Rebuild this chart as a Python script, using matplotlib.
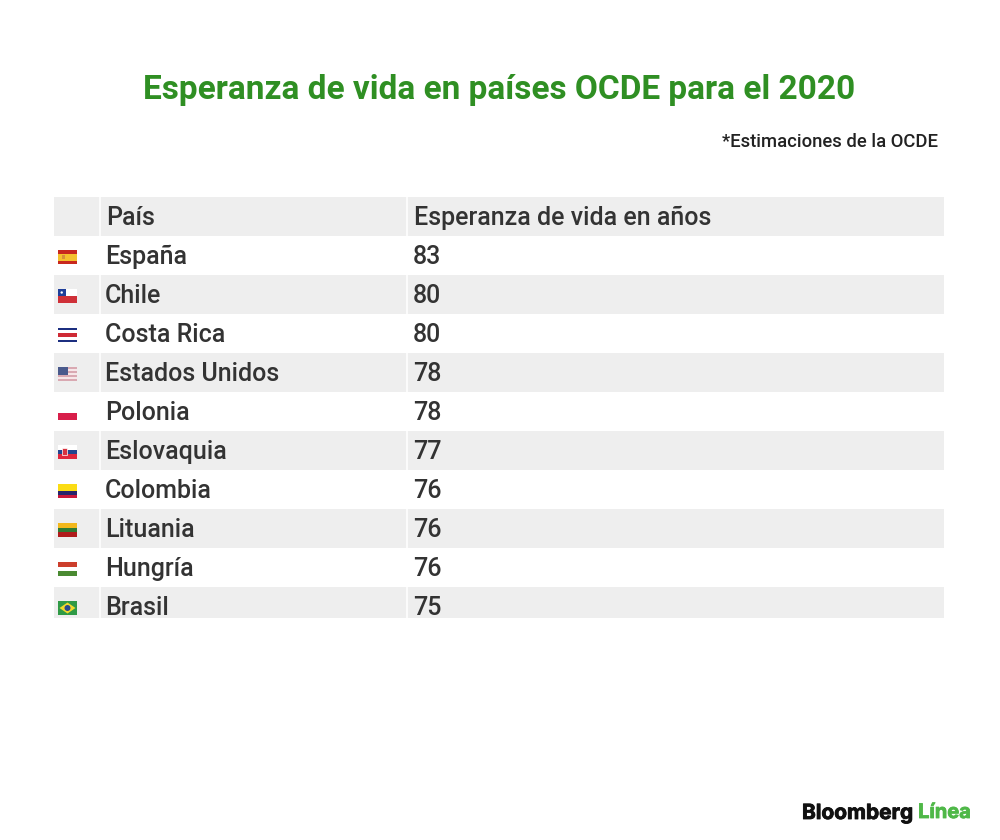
import matplotlib
matplotlib.use('Agg')
import matplotlib.pyplot as plt
import matplotlib.patheffects as pe
from matplotlib.patches import Rectangle, Polygon, Circle

plt.rcParams['font.family'] = ['Roboto', 'DejaVu Sans']

title = 'Esperanza de vida en países OCDE para el 2020'
note = '*Estimaciones de la OCDE'
headers = ['País', 'Esperanza de vida en años']
countries = ['España', 'Chile', 'Costa Rica', 'Estados Unidos', 'Polonia',
             'Eslovaquia', 'Colombia', 'Lituania', 'Hungría', 'Brasil']
years = [83, 80, 80, 78, 78, 77, 76, 76, 76, 75]

# flag bands, top to bottom: (colour, share of the height)
flag_bands = {
    'España': [('#c8281e', 1), ('#f4c12e', 2), ('#c8281e', 1)],
    'Chile': [('#ffffff', 1), ('#cf3038', 1)],
    'Costa Rica': [('#1c2f80', 1), ('#ffffff', 1), ('#cf2a35', 2), ('#ffffff', 1), ('#1c2f80', 1)],
    'Estados Unidos': [('#d9a9b2', 1), ('#f6e6e8', 1)] * 3 + [('#d9a9b2', 1)],
    'Polonia': [('#ffffff', 1), ('#d81e4a', 1)],
    'Eslovaquia': [('#ffffff', 1), ('#24468f', 1), ('#e0263c', 1)],
    'Colombia': [('#fbdc14', 2), ('#27246b', 1), ('#c8183a', 1)],
    'Lituania': [('#f3b81c', 1), ('#2f7a34', 1), ('#b01c1c', 1)],
    'Hungría': [('#cc3e2c', 1), ('#ffffff', 1), ('#4a8a32', 1)],
    'Brasil': [('#2f9a46', 1)],
}

TEXT = '#333333'
STRIPE = '#eeeeee'
GREEN = '#2f8f23'

fig = plt.figure(figsize=(10, 8.4), dpi=100)
ax = fig.add_axes([0, 0, 1, 1])
ax.set_xlim(0, 1000)
ax.set_ylim(840, 0)
ax.axis('off')

ax.text(499, 90, title, color=GREEN, fontsize=24.05, fontweight='bold', ha='center', va='center')
ax.text(938, 142, note, color='#222222', fontsize=13.3, fontweight='medium', ha='right', va='center')

# table
left, right = 54, 944
top, row_h = 197, 39
bottom = 618

ax.add_patch(Rectangle((left, top), right - left, row_h, color=STRIPE, lw=0))
ax.text(106, top + 21, headers[0], color=TEXT, fontsize=18, fontweight='medium', va='center')
ax.text(414, top + 21, headers[1], color=TEXT, fontsize=18, fontweight='medium', va='center')

for i, name in enumerate(countries):
    y = top + row_h * (i + 1)
    if i % 2 == 1:
        h = min(row_h, bottom - y)
        ax.add_patch(Rectangle((left, y), right - left, h, color=STRIPE, lw=0))
    ax.text(105, y + 21, name, color=TEXT, fontsize=18, fontweight='medium', va='center')
    ax.text(413, y + 21, str(years[i]), color=TEXT, fontsize=18, fontweight='medium', va='center')

    # flag
    fx, fy, fw, fh = 58, y + 14, 19, 14
    bands = flag_bands[name]
    total = sum(b[1] for b in bands)
    cur = fy
    for colour, share in bands:
        bh = fh * share / total
        ax.add_patch(Rectangle((fx, cur), fw, bh, color=colour, lw=0))
        cur += bh
    if name == 'España':
        ax.add_patch(Rectangle((fx + 4, fy + 5), 3, 4, color='#d8913a', lw=0))
    if name == 'Chile':
        ax.add_patch(Rectangle((fx, fy), 7.5, fh / 2, color='#1f3f9a', lw=0))
        ax.add_patch(Circle((fx + 3.7, fy + 3.5), 1.2, color='white', lw=0))
    if name == 'Estados Unidos':
        ax.add_patch(Rectangle((fx, fy), 9.5, 7.5, color='#4a5a8c', lw=0))
    if name == 'Eslovaquia':
        ax.add_patch(Rectangle((fx + 3.5, fy + 3), 5, 6.5, color='#d8323f', ec='white', lw=0.5))
    if name == 'Brasil':
        ax.add_patch(Polygon([(fx + 1.5, fy + fh / 2), (fx + fw / 2, fy + 1.5),
                              (fx + fw - 1.5, fy + fh / 2), (fx + fw / 2, fy + fh - 1.5)],
                             color='#f2d92c', lw=0))
        ax.add_patch(Circle((fx + fw / 2, fy + fh / 2), 3, color='#2b4a8c', lw=0))

# white separators between columns
for sx in [100, 407]:
    ax.plot([sx, sx], [top, bottom], color='white', lw=1.1, solid_capstyle='butt')

# logo
heavy = [pe.withStroke(linewidth=0.6, foreground='#111111')]
heavy_green = [pe.withStroke(linewidth=0.6, foreground='#4fb848')]
ax.text(802, 813, 'Bloomberg', color='#111111', fontsize=15, fontweight='bold', ha='left',
        va='center', family=['Inter', 'DejaVu Sans'], path_effects=heavy)
ax.text(971, 813, 'Línea', color='#4fb848', fontsize=14.4, fontweight='bold', ha='right',
        va='center', family=['Inter', 'DejaVu Sans'], path_effects=heavy_green)

fig.savefig('out.png', dpi=100, facecolor='white')
